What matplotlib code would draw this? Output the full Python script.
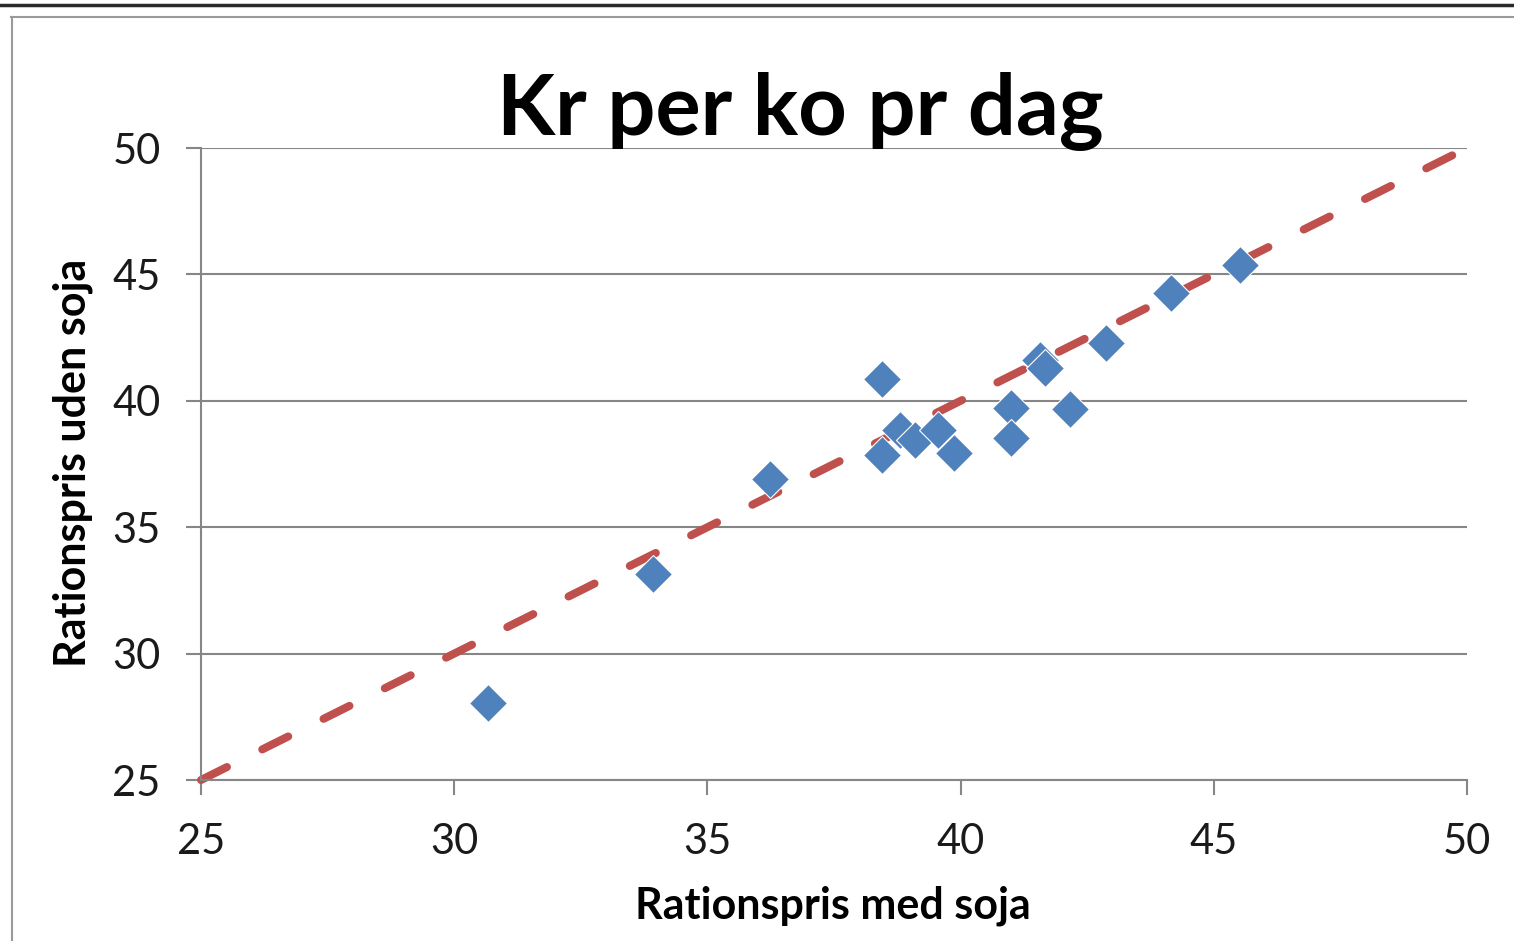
import matplotlib
matplotlib.use("Agg")
import matplotlib.pyplot as plt
from matplotlib.lines import Line2D

# Data
med_soja = [30.66, 33.92, 36.24, 38.45, 38.45, 38.80, 39.10, 39.55, 39.87,
            40.99, 40.99, 41.57, 41.67, 42.16, 42.88, 44.15, 45.52]
uden_soja = [28.06, 33.15, 36.91, 40.85, 37.86, 38.84, 38.45, 38.84, 37.95,
             39.70, 38.54, 41.61, 41.29, 39.68, 42.27, 44.28, 45.37]
ref_line = [25, 50]
ticks = [25, 30, 35, 40, 45, 50]

title = "Kr per ko pr dag"
xlabel = "Rationspris med soja"
ylabel = "Rationspris uden soja"

W, H, DPI = 1514, 941, 100
plt.rcParams['font.family'] = ['Lato', 'DejaVu Sans']
fig = plt.figure(figsize=(W / DPI, H / DPI), dpi=DPI)
fig.patch.set_facecolor('white')

L, R, T, B = 201, 1467, 148, 780
ax = fig.add_axes([L / W, 1 - B / H, (R - L) / W, (B - T) / H])

grid_c = '#868686'
ax.set_xlim(25, 50)
ax.set_ylim(25, 50)
ax.set_xticks(ticks)
ax.set_yticks(ticks)
ax.yaxis.grid(True, color=grid_c, linewidth=1.5)
ax.set_axisbelow(True)
for s in ['top', 'right']:
    ax.spines[s].set_visible(False)
for s in ['left', 'bottom']:
    ax.spines[s].set_color(grid_c)
    ax.spines[s].set_linewidth(1.5)
ax.tick_params(axis='both', direction='out', length=11, width=1.5,
               color=grid_c, labelsize=30, labelcolor='#1a1a1a')
ax.tick_params(axis='y', pad=18)
ax.tick_params(axis='x', pad=20)

ax.plot(ref_line, ref_line, color='#C0504D', linewidth=5.8,
        dashes=(3.6, 4.9), dash_capstyle='round', zorder=2, clip_on=False)
ax.plot(med_soja, uden_soja, linestyle='none', marker='D', markersize=19,
        markerfacecolor='#4F81BD', markeredgecolor='white',
        markeredgewidth=0.8, zorder=3, clip_on=False)

fig.text(800 / W, 1 - 111 / H, title, ha='center', va='center',
         fontsize=61, fontweight='bold', color='black')
fig.text(833 / W, 1 - 906 / H, xlabel, ha='center', va='center',
         fontsize=31, fontweight='bold', color='black')
fig.text(73 / W, 1 - 463 / H, ylabel, ha='center', va='center',
         fontsize=31, fontweight='bold', color='black', rotation=90)

# outer frame lines
fig.add_artist(Line2D([0, 1], [1 - 5 / H, 1 - 5 / H], color='#2a2a2a',
                      linewidth=2.5, transform=fig.transFigure))
fig.add_artist(Line2D([11 / W, 1], [1 - 17 / H, 1 - 17 / H], color='#9a9a9a',
                      linewidth=1.5, transform=fig.transFigure))
fig.add_artist(Line2D([12 / W, 12 / W], [0, 1 - 17 / H], color='#9a9a9a',
                      linewidth=1.5, transform=fig.transFigure))

fig.savefig('out.png', dpi=DPI)
